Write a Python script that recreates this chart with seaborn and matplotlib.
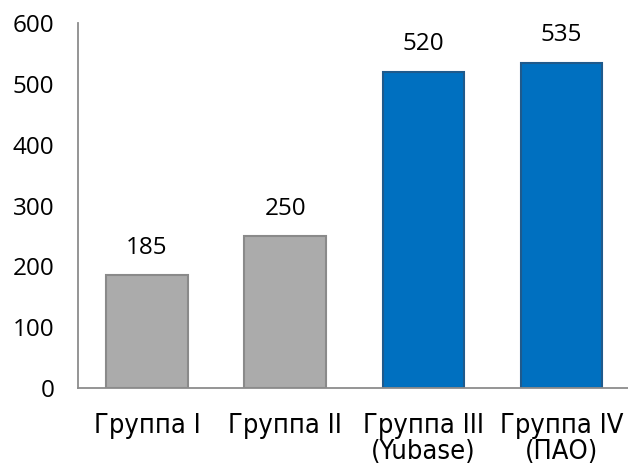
import matplotlib
matplotlib.use("Agg")
import matplotlib.pyplot as plt
import seaborn as sns
import pandas as pd

categories = ["Группа I", "Группа II", "Группа III\n(Yubase)", "Группа IV\n(ПАО)"]
values = [185, 250, 520, 535]
colors = ["#ABABAB", "#ABABAB", "#0070C0", "#0070C0"]
edge_colors = ["#8A8A8A", "#8A8A8A", "#1F5A8C", "#1F5A8C"]
yticks = [0, 100, 200, 300, 400, 500, 600]

sns.set_theme(style="white")
plt.rcParams["font.family"] = ["DejaVu Sans"]

df = pd.DataFrame({"cat": categories, "val": values})

fig = plt.figure(figsize=(6.28, 4.72), dpi=100)
ax = fig.add_axes([0.124, 0.178, 0.88, 0.773])
sns.barplot(data=df, x="cat", y="val", hue="cat", palette=colors,
            width=0.59, legend=False, ax=ax, saturation=1)

for patch, ec in zip(ax.patches, edge_colors):
    patch.set_edgecolor(ec)
    patch.set_linewidth(1.5)

for patch, v in zip(ax.patches, values):
    ax.annotate(str(v), (patch.get_x() + patch.get_width() / 2, v),
                xytext=(0, 11), textcoords="offset points",
                ha="center", va="bottom", fontsize=17.5, color="#000000",
                family="Open Sans")

ax.set_ylim(0, 600)
ax.set_xlim(-0.5, 3.5)
ax.set_yticks(yticks)
ax.set_yticklabels([str(t) for t in yticks], fontsize=17.5, family="Open Sans",
                   color="#000000")
ax.tick_params(axis="y", length=0, pad=17)
ax.tick_params(axis="x", length=0, pad=18, labelsize=19.5, labelcolor="#000000")
for lab in ax.get_xticklabels():
    lab.set_fontstretch("condensed")
    lab.set_linespacing(1.0)
ax.set_xlabel("")
ax.set_ylabel("")
for s in ["top", "right"]:
    ax.spines[s].set_visible(False)
for s in ["left", "bottom"]:
    ax.spines[s].set_color("#8C8C8C")
    ax.spines[s].set_linewidth(1.3)

fig.savefig("out.png", dpi=100)
